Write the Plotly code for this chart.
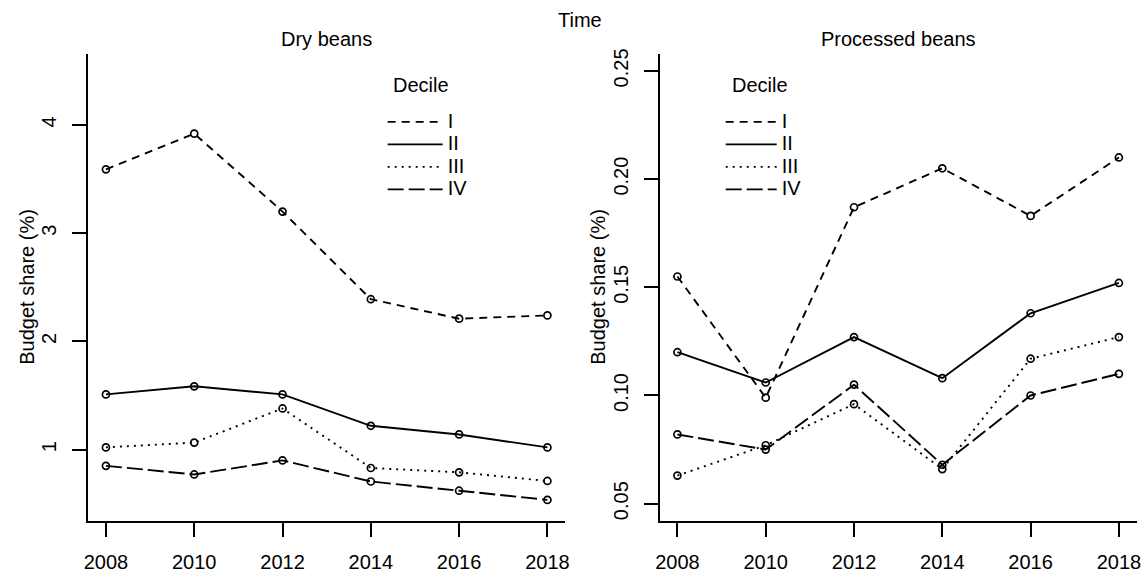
import plotly.graph_objects as go

# ---------------- data ----------------
years = [2008, 2010, 2012, 2014, 2016, 2018]
deciles = ["I", "II", "III", "IV"]

dry_I = [3.59, 3.92, 3.20, 2.39, 2.21, 2.24]
dry_II = [1.51, 1.585, 1.51, 1.22, 1.14, 1.02]
dry_III = [1.02, 1.065, 1.38, 0.83, 0.79, 0.71]
dry_IV = [0.85, 0.77, 0.90, 0.705, 0.62, 0.535]

proc_I = [0.155, 0.099, 0.187, 0.205, 0.183, 0.210]
proc_II = [0.120, 0.106, 0.127, 0.108, 0.138, 0.152]
proc_III = [0.063, 0.077, 0.096, 0.066, 0.117, 0.127]
proc_IV = [0.082, 0.075, 0.105, 0.068, 0.100, 0.110]

x_ticks = [2008, 2010, 2012, 2014, 2016, 2018]
dry_ticks = [1, 2, 3, 4]
dry_tick_labels = ["1", "2", "3", "4"]
proc_ticks = [0.05, 0.10, 0.15, 0.20, 0.25]
proc_tick_labels = ["0.05", "0.10", "0.15", "0.20", "0.25"]

# ---------------- style ----------------
W, H = 1148, 573
FONT = "Liberation Sans, Arial, sans-serif"
FS = 20
LEG_FS = 15  # controls legend row spacing
dashes = {"I": "8px,6px", "II": "solid", "III": "2px,5px", "IV": "16px,5px"}
LW = 1.9

fig = go.Figure()

panels = [
    ("x", "y", "legend", [dry_I, dry_II, dry_III, dry_IV]),
    ("x2", "y2", "legend2", [proc_I, proc_II, proc_III, proc_IV]),
]
for xa, ya, leg, series in panels:
    for name, vals in zip(deciles, series):
        fig.add_trace(go.Scatter(
            x=years, y=vals, mode="lines+markers", xaxis=xa, yaxis=ya,
            line=dict(color="black", width=LW, dash=dashes[name]),
            marker=dict(symbol="circle-open", size=7, color="black",
                        line=dict(width=1.7, color="black")),
            showlegend=False, hoverinfo="skip",
        ))
    for name in deciles:
        fig.add_trace(go.Scatter(
            x=[None], y=[None], mode="lines", xaxis=xa, yaxis=ya,
            line=dict(color="black", width=LW, dash=dashes[name]),
            name='<span style="font-size:%dpx">%s</span>' % (FS, name),
            legend=leg, showlegend=True,
        ))

xdom1 = [84 / W, 565 / W]
xdom2 = [660.5 / W, 1141.5 / W]
ydom = [1 - 523.3 / H, 1 - 49.3 / H]

axis_common = dict(
    showline=True, linecolor="black", linewidth=2,
    ticks="outside", ticklen=14, tickwidth=2, tickcolor="black",
    showgrid=False, zeroline=False, mirror=False,
    tickfont=dict(family=FONT, size=FS, color="black"),
)

legend_common = dict(
    xanchor="left", yanchor="top",
    font=dict(family=FONT, size=LEG_FS), bgcolor="rgba(0,0,0,0)",
    tracegroupgap=0,
)

fig.update_layout(
    width=W, height=H,
    margin=dict(l=0, r=0, t=0, b=0, pad=0),
    paper_bgcolor="white", plot_bgcolor="white",
    font=dict(family=FONT, size=FS, color="black"),
    xaxis=dict(domain=xdom1, anchor="y", range=[2007.6, 2018.4],
               tickvals=x_ticks, ticklabelstandoff=8, **axis_common),
    yaxis=dict(domain=ydom, anchor="x", range=[0.34, 4.66],
               tickvals=dry_ticks, ticktext=dry_tick_labels, tickangle=-90,
               ticklabelstandoff=8, **axis_common),
    xaxis2=dict(domain=xdom2, anchor="y2", range=[2007.6, 2018.4],
                tickvals=x_ticks, ticklabelstandoff=8, **axis_common),
    yaxis2=dict(domain=ydom, anchor="x2", range=[0.042, 0.258],
                tickvals=proc_ticks, ticktext=proc_tick_labels, tickangle=-90,
                ticklabelstandoff=8, **axis_common),
    legend=dict(x=381 / W, y=1 - 102 / H, itemwidth=55, **legend_common),
    legend2=dict(x=722 / W, y=1 - 102 / H, itemwidth=51, **legend_common),
    annotations=[
        dict(text="Time", x=580 / W, y=1 - 15 / H),
        dict(text="Dry beans", x=324.5 / W, y=1 - 34 / H),
        dict(text="Processed beans", x=901 / W, y=1 - 34 / H),
        dict(text="Budget share (%)", x=22 / W, y=1 - 286 / H, textangle=-90),
        dict(text="Budget share (%)", x=598 / W, y=1 - 286 / H, textangle=-90),
        dict(text="Decile", x=389 / W, y=1 - 81 / H, xanchor="left"),
        dict(text="Decile", x=731 / W, y=1 - 81 / H, xanchor="left"),
    ],
)
fig.update_annotations(xref="paper", yref="paper", showarrow=False,
                       yanchor="middle",
                       font=dict(family=FONT, size=FS, color="black"))
for ann in fig.layout.annotations:
    if ann.xanchor is None:
        ann.xanchor = "center"

fig.write_html("out.html", config={"displayModeBar": False},
               post_script="document.body.style.margin='0';")
